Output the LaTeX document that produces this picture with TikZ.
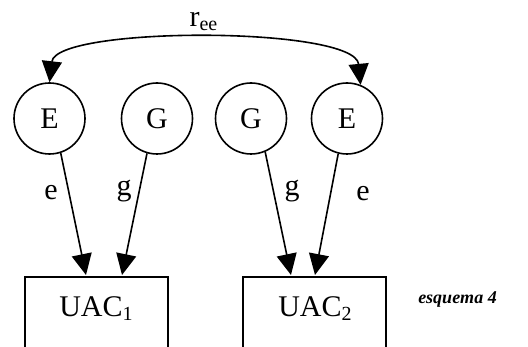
\documentclass[tikz,border=0pt]{standalone}
\usepackage{fontspec}
\setmainfont{Liberation Serif}
\usetikzlibrary{arrows.meta}
\newcommand\mysub[1]{\raisebox{-4pt}{\fontsize{20}{20}\selectfont #1}}
\begin{document}
\begin{tikzpicture}[x=1pt,y=-1pt,
  lw/.style={line width=1.6pt},
  bigfont/.style={font=\fontsize{30}{36}\selectfont},
  latent/.style={circle,draw,lw,minimum size=71pt,inner sep=0pt,bigfont},
  obsbox/.style={rectangle,draw,lw,minimum width=143pt,minimum height=120pt,anchor=north,inner sep=0pt},
  lbl/.style={bigfont,inner sep=0pt,anchor=base},
  arr/.style={lw,-{Triangle[length=21pt,width=20pt]}},
  dblarr/.style={lw,{Triangle[length=21pt,width=20pt]}-{Triangle[length=21pt,width=20pt]}},
  note/.style={font=\fontsize{18}{20}\selectfont\bfseries\itshape,inner sep=0pt,anchor=base}
]
\useasboundingbox (0,0) rectangle (528,347);
\clip (0,0) rectangle (528,347);

\node[latent] (E1) at (49.5,118.5) {E};
\node[latent] (G1) at (157,118.5) {G};
\node[latent] (G2) at (251,118.5) {G};
\node[latent] (E2) at (347,118.5) {E};

\node[obsbox] (U1) at (96.5,276) {};
\node[obsbox] (U2) at (314.5,276) {};
\node[lbl] (t1) at (96,317) {UAC\mysub{1}};
\node[lbl] (t2) at (315,317) {UAC\mysub{2}};

\coordinate (a1) at (86,275);
\coordinate (a2) at (122,275);
\coordinate (a3) at (291,275);
\coordinate (a4) at (315,275);

\draw[arr] (E1.-72.5) -- (a1);
\draw[arr] (G1.-106) -- (a2);
\draw[arr] (G2.-67.7) -- (a3);
\draw[arr] (E2.-104) -- (a4);

\draw[dblarr] (E1.north) .. controls (56,26) and (355,26) .. (E2.68);

\node[lbl] (le1) at (51,200) {e};
\node[lbl] (lg1) at (124,196) {g};
\node[lbl] (lg2) at (292,196) {g};
\node[lbl] (le2) at (363,201) {e};
\node[lbl] (ree) at (203.5,27) {r\mysub{ee}};

\node[note] (esq) at (457.5,304) {esquema 4};
\end{tikzpicture}
\end{document}
